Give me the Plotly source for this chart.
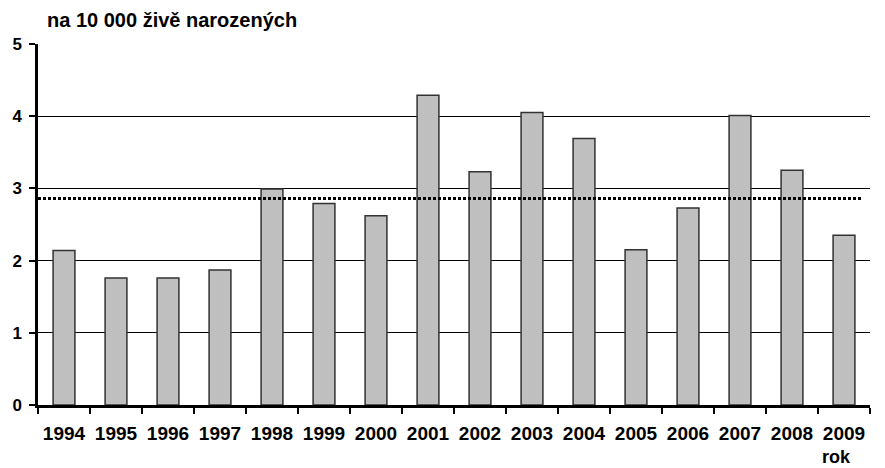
import plotly.graph_objects as go

years = ["1994", "1995", "1996", "1997", "1998", "1999", "2000", "2001",
         "2002", "2003", "2004", "2005", "2006", "2007", "2008", "2009"]
values = [2.14, 1.76, 1.76, 1.87, 2.99, 2.79, 2.62, 4.29,
          3.23, 4.05, 3.69, 2.15, 2.73, 4.01, 3.25, 2.35]
average = 2.86
y_ticks = [0, 1, 2, 3, 4, 5]
title_text = "na 10 000 živě narozených"
x_axis_label = "rok"

FONT = "Liberation Sans, Arial, sans-serif"

fig = go.Figure()
fig.add_trace(go.Bar(
    x=years, y=values, width=0.42,
    marker=dict(color="#bfbfbf", line=dict(color="#333333", width=1.5)),
    showlegend=False, hoverinfo="skip",
))

fig.add_shape(type="line", xref="paper", yref="y", x0=0, x1=0.99,
              y0=average, y1=average,
              line=dict(color="black", width=3, dash="3px,2px"))

# page body has an 8px margin; compensate so the plot sits where the reference does
fig.update_layout(
    width=877, height=460,
    margin=dict(l=30, r=15, t=36, b=63, autoexpand=False),
    paper_bgcolor="white", plot_bgcolor="white",
    xaxis=dict(
        type="category", tickson="boundaries", ticks="outside", ticklen=6,
        tickwidth=2, tickcolor="black", automargin=False, tickangle=0,
        showline=True, linecolor="black", linewidth=2.5,
        showgrid=False, zeroline=False,
        tickfont=dict(family=FONT, size=19, color="black", weight="bold"),
        ticklabelstandoff=9,
        range=[-0.5, 15.5],
    ),
    yaxis=dict(
        range=[0, 5], tickvals=y_ticks, ticks="outside", ticklen=6,
        tickwidth=2, tickcolor="black", automargin=False,
        showline=True, linecolor="black", linewidth=2.5,
        showgrid=True, gridcolor="black", gridwidth=1,
        zeroline=False,
        tickfont=dict(family=FONT, size=17, color="black", weight="bold"),
        ticklabelstandoff=4,
    ),
    annotations=[
        dict(text=title_text, xref="paper", yref="paper",
             x=(45 - 38) / 832, y=1 + (44 - 20) / 361, xanchor="left", yanchor="middle",
             showarrow=False,
             font=dict(family=FONT, size=20, color="black", weight="bold")),
        dict(text=x_axis_label, xref="paper", yref="paper",
             x=(820 - 38) / 832, y=-(457 - 405) / 361, xanchor="left", yanchor="middle",
             showarrow=False,
             font=dict(family=FONT, size=18, color="black", weight="bold")),
    ],
)

fig.write_html("out.html")
